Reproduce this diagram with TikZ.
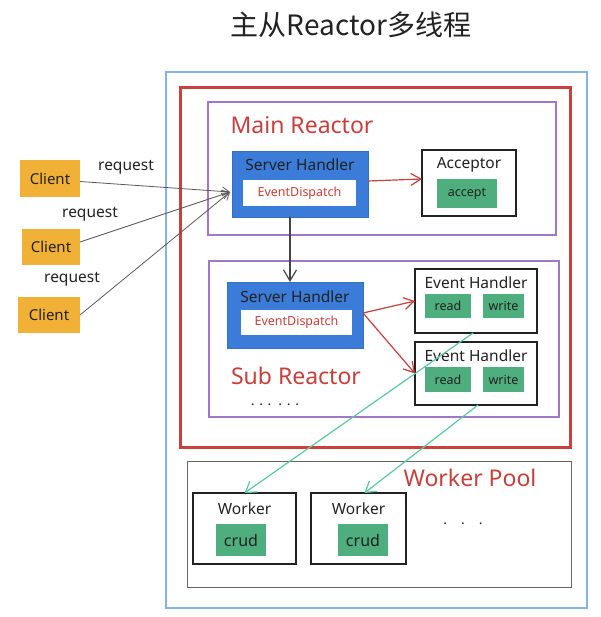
\documentclass[tikz,border=0pt]{standalone}
\usepackage{fontspec}
\setmainfont{Noto Sans}
\newfontfamily\cjk{Noto Sans CJK SC}
\usetikzlibrary{arrows.meta}
\definecolor{outerblue}{HTML}{86B2EA}
\definecolor{redframe}{HTML}{C8413D}
\definecolor{purpleframe}{HTML}{A376C6}
\definecolor{handlerblue}{HTML}{3B7CD9}
\definecolor{opgreen}{HTML}{4FAE7D}
\definecolor{teal}{HTML}{5CC7A2}
\definecolor{clientorange}{HTML}{F1B136}
\definecolor{redtext}{HTML}{C63F3A}
\definecolor{ink}{HTML}{222222}
\begin{document}
\begin{tikzpicture}[x=1pt,y=-1pt,
  every node/.style={inner sep=0pt, outer sep=0pt},
  frame/.style={draw, rectangle},
  blackbox/.style={draw=ink, line width=1.3pt, fill=white},
  handler/.style={fill=handlerblue, draw=handlerblue!90!black, line width=0.6pt},
  dispatch/.style={fill=white, font=\fontsize{12.5}{14}\selectfont, text=redtext},
  op/.style={fill=opgreen, font=\fontsize{12.5}{14}\selectfont, text=ink},
  client/.style={fill=clientorange, font=\fontsize{15}{17}\selectfont, text=ink},
  lbl/.style={font=\fontsize{15.5}{18}\selectfont, text=ink},
  biglbl/.style={font=\fontsize{23}{27}\selectfont, text=redtext},
  reqlbl/.style={font=\fontsize{15.5}{18}\selectfont, text=ink},
  dotlbl/.style={font=\bfseries\fontsize{14}{16}\selectfont, text=ink, anchor=base},
  reqarrow/.style={draw=ink!75, line width=0.8pt, -{Straight Barb[length=7pt,width=9pt]}},
  redarrow/.style={draw=redtext, line width=1.2pt, -{Straight Barb[length=10pt,width=12pt]}},
  grayarrow/.style={draw=ink!85, line width=1.2pt, -{Straight Barb[length=11pt,width=13pt]}},
  tealarrow/.style={draw=teal, line width=1.2pt, -{Straight Barb[length=10pt,width=13pt]}},
]
\useasboundingbox (0,0) rectangle (600,617);

% title
\node[font=\cjk\fontsize{28}{32}\selectfont, text=ink] (title) at (351,25) {主从Reactor多线程};

% frames
\node[frame, draw=outerblue, line width=1.5pt, minimum width=421pt, minimum height=536pt] (outer) at (376.5,340) {};
\node[frame, draw=redframe, line width=3pt, minimum width=390pt, minimum height=359pt] (redbox) at (375,267.5) {};
\node[frame, draw=purpleframe, line width=1.2pt, minimum width=348pt, minimum height=133pt] (mainr) at (382,168.5) {};
\node[frame, draw=purpleframe, line width=1.2pt, minimum width=350pt, minimum height=156pt] (subr) at (384,339) {};
\node[frame, draw=ink!70, line width=1pt, minimum width=384pt, minimum height=126pt] (pool) at (379,524) {};

% frame labels
\node[biglbl] (mainlbl) at (302,125) {Main Reactor};
\node[biglbl] (sublbl) at (296,376) {Sub Reactor};
\node[biglbl] (poollbl) at (470,478) {Worker Pool};
\node[dotlbl] (subdots) at (275,405) {.\,\,.\,\,.\,\,\,.\,\,.\,\,.};
\node[dotlbl] (pooldots) at (463,524) {.\quad.\quad.};

% main reactor
\node[handler, minimum width=136pt, minimum height=66pt] (msh) at (300,184) {};
\node[lbl] (mshlbl) at (300,165) {Server Handler};
\node[dispatch, minimum width=113pt, minimum height=26pt] (mshed) at (299.5,193) {EventDispatch};
\node[blackbox, minimum width=94pt, minimum height=66pt] (acc) at (469,183) {};
\node[lbl] (acclbl) at (469,165) {Acceptor};
\node[op, minimum width=60pt, minimum height=29pt] (accept) at (467,193.5) {accept};

% sub reactor
\node[handler, minimum width=136pt, minimum height=66pt] (ssh) at (295,315) {};
\node[lbl] (sshlbl) at (295,297) {Server Handler};
\node[dispatch, minimum width=111pt, minimum height=25pt] (ssed) at (296.5,322.5) {EventDispatch};

\node[blackbox, minimum width=122pt, minimum height=64pt] (eh1) at (476,301) {};
\node[lbl] (eh1lbl) at (476,283) {Event Handler};
\node[op, minimum width=46pt, minimum height=24pt] (read1) at (448,306) {read};
\node[op, minimum width=41pt, minimum height=24pt] (write1) at (503.5,306) {write};

\node[blackbox, minimum width=122pt, minimum height=63pt] (eh2) at (476,373.5) {};
\node[lbl] (eh2lbl) at (476,356) {Event Handler};
\node[op, minimum width=46pt, minimum height=25pt] (read2) at (448,379.5) {read};
\node[op, minimum width=41pt, minimum height=25pt] (write2) at (503.5,379.5) {write};

% workers
\node[blackbox, minimum width=103pt, minimum height=71pt] (w1) at (244.5,528.5) {};
\node[lbl] (w1lbl) at (244.5,509) {Worker};
\node[op, font=\fontsize{16}{18}\selectfont, minimum width=50pt, minimum height=32pt] (crud1) at (241,540) {crud};
\node[blackbox, minimum width=95pt, minimum height=71pt] (w2) at (358.5,528.5) {};
\node[lbl] (w2lbl) at (358.5,509) {Worker};
\node[op, font=\fontsize{16}{18}\selectfont, minimum width=50pt, minimum height=32pt] (crud2) at (363,540) {crud};

% clients
\node[client, minimum width=60pt, minimum height=37pt] (c1) at (50,178.5) {Client};
\node[client, minimum width=58pt, minimum height=36pt] (c2) at (51,247) {Client};
\node[client, minimum width=62pt, minimum height=36pt] (c3) at (49,315) {Client};
\node[reqlbl] (r1) at (126,167) {request};
\node[reqlbl] (r2) at (90,214) {request};
\node[reqlbl] (r3) at (72,279) {request};

\coordinate (conv) at (230,192);
\draw[reqarrow] ([yshift=-3pt]c1.east) -- (conv);
\draw[reqarrow] ([yshift=5pt]c2.east) -- (conv);
\draw[reqarrow] (c3.east) -- (conv);

% connectors
\draw[redarrow] ([yshift=3pt]msh.east) -- ([yshift=4pt]acc.west);
\draw[grayarrow] ([xshift=-10pt]msh.south) -- ([xshift=-10pt]msh.south |- ssh.north);
\draw[redarrow] ([yshift=2pt]ssh.east) -- (eh1.west);
\draw[redarrow] ([yshift=2pt]ssh.east) -- (eh2.west);
\draw[tealarrow] ([xshift=-3pt]eh1.south) -- (w1.north);
\draw[tealarrow] ([xshift=2pt]eh2.south) -- ([xshift=6pt]w2.north);
\end{tikzpicture}
\end{document}
